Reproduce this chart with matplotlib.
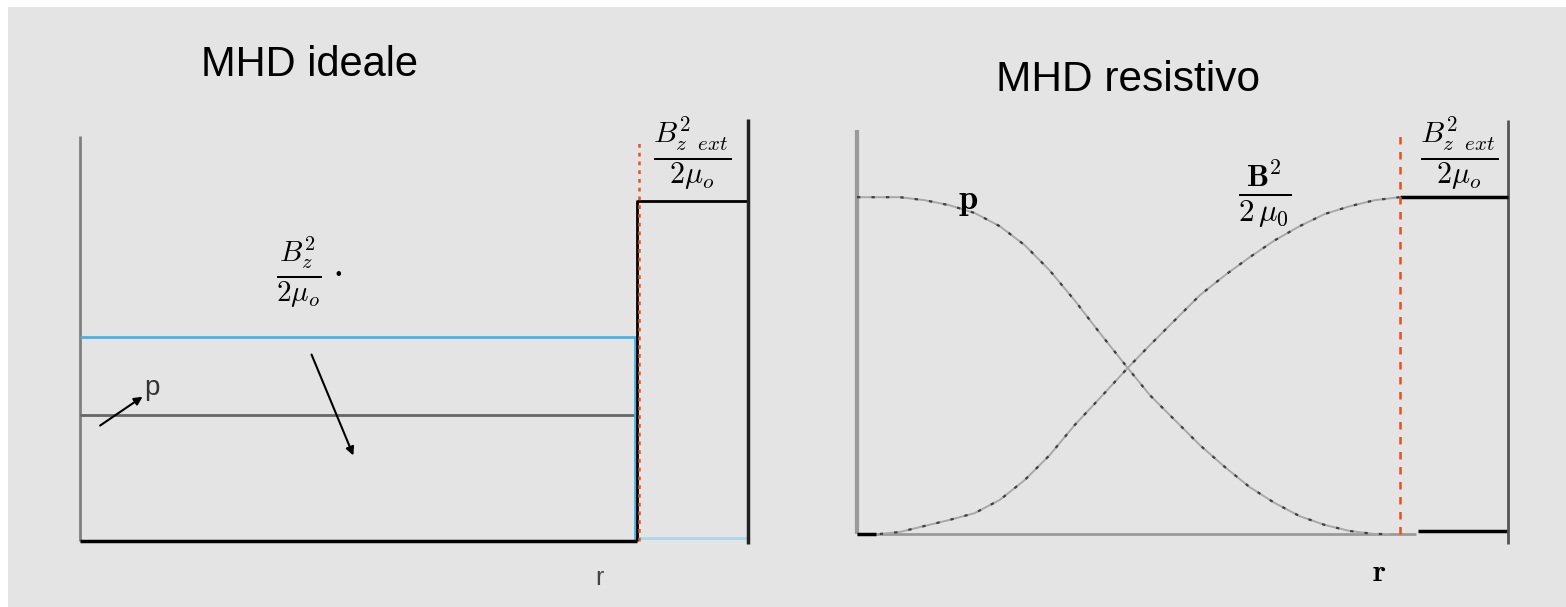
import numpy as np
import matplotlib.pyplot as plt
from matplotlib.patches import Rectangle

plt.rcParams['mathtext.fontset'] = 'cm'

# MHD ideale: constant levels (units of external magnetic pressure)
r_wall = 1.0
r_out = 1.2
p_ideal = 0.37
b2_ideal = 0.60
b2_ext = 1.0

# MHD resistivo: profiles
r_p = [0.0, 0.079, 0.125, 0.171, 0.217, 0.263, 0.309, 0.355, 0.401, 0.448, 0.499,
       0.540, 0.586, 0.632, 0.678, 0.724, 0.770, 0.816, 0.862, 0.908, 0.954, 0.982]
p_res = [1.0, 1.0, 0.991, 0.976, 0.953, 0.914, 0.858, 0.783, 0.694, 0.596, 0.493,
         0.412, 0.338, 0.264, 0.199, 0.139, 0.092, 0.053, 0.027, 0.009, 0.0, 0.0]
r_b = [0.042, 0.079, 0.125, 0.171, 0.217, 0.263, 0.309, 0.355, 0.401, 0.448, 0.499,
       0.540, 0.586, 0.632, 0.678, 0.724, 0.770, 0.816, 0.862, 0.908, 0.954, 1.0]
b2_res = [0.0, 0.006, 0.024, 0.042, 0.062, 0.101, 0.160, 0.234, 0.323, 0.404, 0.493,
          0.561, 0.635, 0.709, 0.768, 0.822, 0.872, 0.914, 0.950, 0.973, 0.991, 1.0]

W, H = 1566, 607
fig = plt.figure(figsize=(W / 100, H / 100), dpi=100, facecolor='white')
fig.patches.append(Rectangle((8 / W, 0), 1 - 8 / W, 600 / H, transform=fig.transFigure,
                             facecolor='#e4e4e4', edgecolor='none', zorder=-10))

blue = '#45b4e6'
red = '#e8501e'

# ---------------- left panel ----------------
ax1 = fig.add_axes([80 / W, 66 / H, 668 / W, 425 / H])
ax1.set_xlim(0, r_out)
ax1.set_ylim(0, 1.25)
ax1.axis('off')
kw = dict(clip_on=False, solid_capstyle='butt')
ax1.plot([0, 0], [0, 1.19], color='#808080', lw=2, **kw)
ax1.plot([0, r_wall], [p_ideal, p_ideal], color='#666666', lw=2, **kw)
ax1.plot([0, r_wall], [b2_ideal, b2_ideal], color=blue, lw=2, **kw)
ax1.plot([r_wall - 0.003, r_wall - 0.003], [b2_ideal, 0], color=blue, lw=2, **kw)
ax1.plot([r_wall, r_out], [0.01, 0.01], color='#a8d8ec', lw=2, **kw)
ax1.plot([0, r_wall], [0, 0], color='black', lw=2.5, **kw)
ax1.plot([r_wall, r_wall, r_out], [0, b2_ext, b2_ext], color='black', lw=2, **kw)
ax1.plot([r_out, r_out], [-0.01, 1.24], color='#222222', lw=2.5, **kw)
ax1.plot([r_wall + 0.004] * 2, [0, 1.17], color=red, lw=1.8, ls=(0, (1.5, 2)), **kw)

ax1.annotate('', xy=(0.1165, 0.429), xytext=(0.032, 0.335),
             arrowprops=dict(arrowstyle='-|>', color='black', lw=1.5, mutation_scale=12))
ax1.annotate('', xy=(0.493, 0.244), xytext=(0.414, 0.556),
             arrowprops=dict(arrowstyle='-|>', color='black', lw=1.5, mutation_scale=12))

ax1.text(0.412, 1.40, 'MHD ideale', fontsize=30, family='Liberation Sans', ha='center', va='center')
ax1.text(0.129, 0.45, 'p', fontsize=20, family='Liberation Sans', ha='center', va='center', color='#333333')
ax1.text(0.412, 0.79, r'$\frac{B_z^2}{2\mu_o}\cdot$', fontsize=30, ha='center', va='center')
ax1.text(1.099, 1.14, r'$\frac{B_{z\ \ ext}^2}{2\mu_o}$', fontsize=31, ha='center', va='center')
ax1.text(0.934, -0.109, 'r', fontsize=18, family='Liberation Sans', ha='center', va='center', color='#444444')

# ---------------- right panel ----------------
ax2 = fig.add_axes([857 / W, 73 / H, 651 / W, 421 / H])
ax2.set_xlim(0, r_out)
ax2.set_ylim(0, 1.25)
ax2.axis('off')
ax2.plot([0, 0], [0, 1.2], color='#9a9a9a', lw=3, **kw)
ax2.plot([0, 1.03], [0, 0], color='#9a9a9a', lw=2, **kw)
ax2.plot([0, 0.035], [0, 0], color='black', lw=2.5, **kw)
ax2.plot([1.035, r_out], [0.01, 0.01], color='black', lw=2.5, **kw)
ax2.plot([r_out, r_out], [-0.03, 1.23], color='#555555', lw=2, **kw)
ax2.plot([r_wall, r_out], [b2_ext, b2_ext], color='black', lw=2.5, **kw)
ax2.plot([r_wall, r_wall], [0, 1.2], color=red, lw=1.8, ls=(0, (3, 3)), **kw)

for rr, vv in [(r_p, p_res), (r_b, b2_res)]:
    ax2.plot(rr, vv, color='#a8a8a8', lw=1.4, **kw)
    ax2.plot(rr, vv, color='#404040', lw=1.6, ls=(0, (1.5, 5)), clip_on=False)

ax2.text(0.499, 1.347, 'MHD resistivo', fontsize=30.5, family='Liberation Sans', ha='center', va='center')
ax2.text(0.205, 0.99, r'$\mathbf{p}$', fontsize=25, ha='center', va='center')
ax2.text(0.751, 1.01, r'$\frac{\mathbf{B}^2}{2\,\mu_\mathbf{0}}$', fontsize=32, ha='center', va='center')
ax2.text(1.11, 1.13, r'$\frac{B_{z\ \ ext}^2}{2\mu_o}$', fontsize=31, ha='center', va='center')
ax2.text(0.963, -0.113, r'$\mathbf{r}$', fontsize=22, ha='center', va='center')

fig.savefig('out.png', dpi=100, facecolor=fig.get_facecolor())
